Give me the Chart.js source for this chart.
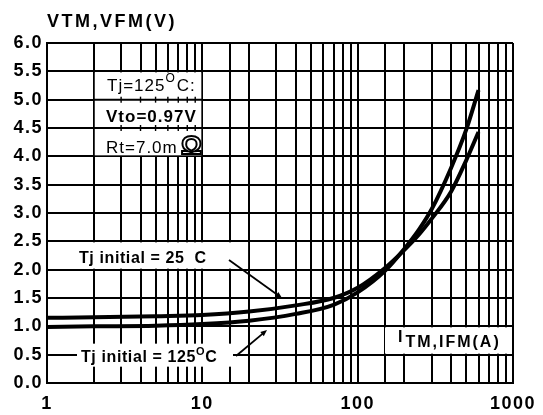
<!DOCTYPE html>
<html>
<head>
<meta charset="utf-8">
<script src="https://cdn.jsdelivr.net/npm/chart.js@4.4.0/dist/chart.umd.min.js"></script>
<style>
  html, body { margin: 0; padding: 0; background: #fff; }
</style>
</head>
<body>
<canvas id="vf" width="543" height="415"></canvas>
<script>
// on-state voltage vs current, two junction temperatures
const currentA = [1, 2, 5, 10, 20, 40, 70, 100, 150, 200, 250, 300, 400, 500, 600];
const vTj125 = [0.99, 1.00, 1.01, 1.04, 1.10, 1.22, 1.38, 1.60, 1.98, 2.37, 2.72, 3.07, 3.80, 4.47, 5.17];
const vTj25 = [1.15, 1.16, 1.18, 1.20, 1.26, 1.37, 1.50, 1.68, 2.03, 2.35, 2.63, 2.90, 3.38, 3.93, 4.43];
const decadeLabels = [1, 10, 100, 1000];
const voltTicks = [0, 0.5, 1, 1.5, 2, 2.5, 3, 3.5, 4, 4.5, 5, 5.5, 6];

const FONT = '"Liberation Sans", Arial, sans-serif';
const LINE = 2;

function pts(ys) {
  return currentA.map((c, i) => ({ x: c, y: ys[i] }));
}

function arrow(ctx, x0, y0, x1, y1) {
  const a = Math.atan2(y1 - y0, x1 - x0);
  ctx.beginPath();
  ctx.moveTo(x0, y0);
  ctx.lineTo(x1 - 4 * Math.cos(a), y1 - 4 * Math.sin(a));
  ctx.lineWidth = 1.8;
  ctx.stroke();
  ctx.beginPath();
  ctx.moveTo(x1, y1);
  ctx.lineTo(x1 - 7 * Math.cos(a - 0.4), y1 - 7 * Math.sin(a - 0.4));
  ctx.lineTo(x1 - 7 * Math.cos(a + 0.4), y1 - 7 * Math.sin(a + 0.4));
  ctx.closePath();
  ctx.fill();
}

// draws text pieces one after another, small "O" raised as the degree mark
function runText(ctx, parts, x, y) {
  for (const p of parts) {
    ctx.font = p.font;
    ctx.fillText(p.t, x, y + (p.dy || 0));
    x += ctx.measureText(p.t).width + (p.gap || 0);
  }
}

const spacing = {
  id: 'spacing',
  beforeDraw(chart) { chart.ctx.letterSpacing = '1.5px'; },
  afterDraw(chart) { chart.ctx.letterSpacing = '0px'; }
};

const notes = {
  id: 'notes',
  beforeDatasetsDraw(chart) {
    const { ctx, scales: { x, y } } = chart;
    const X = v => x.getPixelForValue(v);
    const Y = v => y.getPixelForValue(v);
    ctx.save();

    // white panels behind the labels
    ctx.fillStyle = '#fff';
    ctx.fillRect(X(2) + 1, Y(5.5) + 1, X(10) - X(2) - 2, Y(4.0) - Y(5.5) - 2);
    ctx.fillRect(x.left + 1, Y(2.5) + 1, X(20) - x.left - 2, Y(2.0) - Y(2.5) - 2);
    ctx.fillRect(77, Y(0.5) - 11, 156, 23);
    ctx.fillRect(X(150), Y(1.0) + 1, X(1000) - X(150) - 2, Y(0.5) - Y(1.0) - 2);

    // grid lines kept through the parameter panel, with short ticks
    ctx.strokeStyle = '#000';
    ctx.fillStyle = '#000';
    ctx.lineWidth = LINE;
    for (const v of [5.0, 4.5]) {
      ctx.beginPath();
      ctx.moveTo(X(2), Y(v));
      ctx.lineTo(X(10), Y(v));
      ctx.stroke();
      for (let k = 3; k <= 9; k++) {
        ctx.beginPath();
        ctx.moveTo(X(k), Y(v) - 3);
        ctx.lineTo(X(k), Y(v) + 3);
        ctx.lineWidth = 1.4;
        ctx.stroke();
      }
      ctx.lineWidth = LINE;
    }

    ctx.textBaseline = 'alphabetic';
    ctx.letterSpacing = '1px';
    runText(ctx, [
      { t: 'Tj=125', font: '17px ' + FONT },
      { t: 'O', font: '12px ' + FONT, dy: -9, gap: 1 },
      { t: 'C:', font: '17px ' + FONT }
    ], 107, 91);
    ctx.font = 'bold 17px ' + FONT;
    ctx.fillText('Vto=0.97V', 106, 122);
    ctx.font = '17px ' + FONT;
    ctx.fillText('Rt=7.0m', 106, 153);
    ctx.letterSpacing = '0px';
    ctx.font = 'bold 26px ' + FONT;
    ctx.lineWidth = 2;
    ctx.strokeText('\u03A9', 181, 154);

    ctx.letterSpacing = '0.6px';
    ctx.font = 'bold 16px ' + FONT;
    ctx.fillText('Tj initial = 25  C', 79, 263);
    runText(ctx, [
      { t: 'Tj initial = 125', font: 'bold 16px ' + FONT },
      { t: 'O', font: 'bold 11px ' + FONT, dy: -7 },
      { t: 'C', font: 'bold 16px ' + FONT }
    ], 81, 362);

    ctx.letterSpacing = '2px';
    runText(ctx, [
      { t: 'I', font: 'bold 16px ' + FONT, dy: -5, gap: 1 },
      { t: 'TM,IFM(A)', font: 'bold 16px ' + FONT }
    ], 398, 347);
    ctx.letterSpacing = '0px';

    arrow(ctx, 229, 260, 282, 298);
    arrow(ctx, 236, 356, 267, 330);

    ctx.restore();
  },
  afterDraw(chart) {
    const ctx = chart.ctx;
    ctx.save();
    ctx.fillStyle = '#000';
    ctx.letterSpacing = '2.5px';
    ctx.font = 'bold 18px ' + FONT;
    ctx.textBaseline = 'alphabetic';
    ctx.fillText('VTM,VFM(V)', 47, 27);
    ctx.restore();
  }
};

const lineStyle = {
  borderColor: '#000',
  borderWidth: 4,
  pointRadius: 0,
  fill: false,
  cubicInterpolationMode: 'monotone'
};

new Chart(document.getElementById('vf'), {
  type: 'line',
  data: {
    datasets: [
      Object.assign({ label: 'Tj initial = 25 C', data: pts(vTj25) }, lineStyle),
      Object.assign({ label: 'Tj initial = 125 C', data: pts(vTj125) }, lineStyle)
    ]
  },
  options: {
    responsive: false,
    devicePixelRatio: 1,
    animation: false,
    layout: { padding: { top: 43, right: 27, left: 0, bottom: 0 } },
    plugins: { legend: { display: false }, tooltip: { enabled: false } },
    scales: {
      x: {
        type: 'logarithmic',
        min: 1,
        max: 1000,
        grid: { color: '#000', lineWidth: LINE, drawTicks: false },
        border: { color: '#000', width: 2 },
        ticks: {
          autoSkip: false,
          maxRotation: 0,
          padding: 10,
          color: '#000',
          font: { family: FONT, weight: 'bold', size: 18 },
          callback: v => decadeLabels.includes(Math.round(v)) && Math.abs(v - Math.round(v)) < 1e-6 ? String(Math.round(v)) : ''
        },
        afterFit: s => { s.height = 32; }
      },
      y: {
        min: 0,
        max: 6,
        afterBuildTicks: s => { s.ticks = voltTicks.map(v => ({ value: v })); },
        grid: { color: '#000', lineWidth: LINE, drawTicks: false },
        border: { color: '#000', width: 2 },
        ticks: {
          padding: 4,
          color: '#000',
          font: { family: FONT, weight: 'bold', size: 18 },
          callback: v => v.toFixed(1)
        },
        afterFit: s => { s.width = 47; }
      }
    }
  },
  plugins: [spacing, notes]
});
</script>
</body>
</html>
